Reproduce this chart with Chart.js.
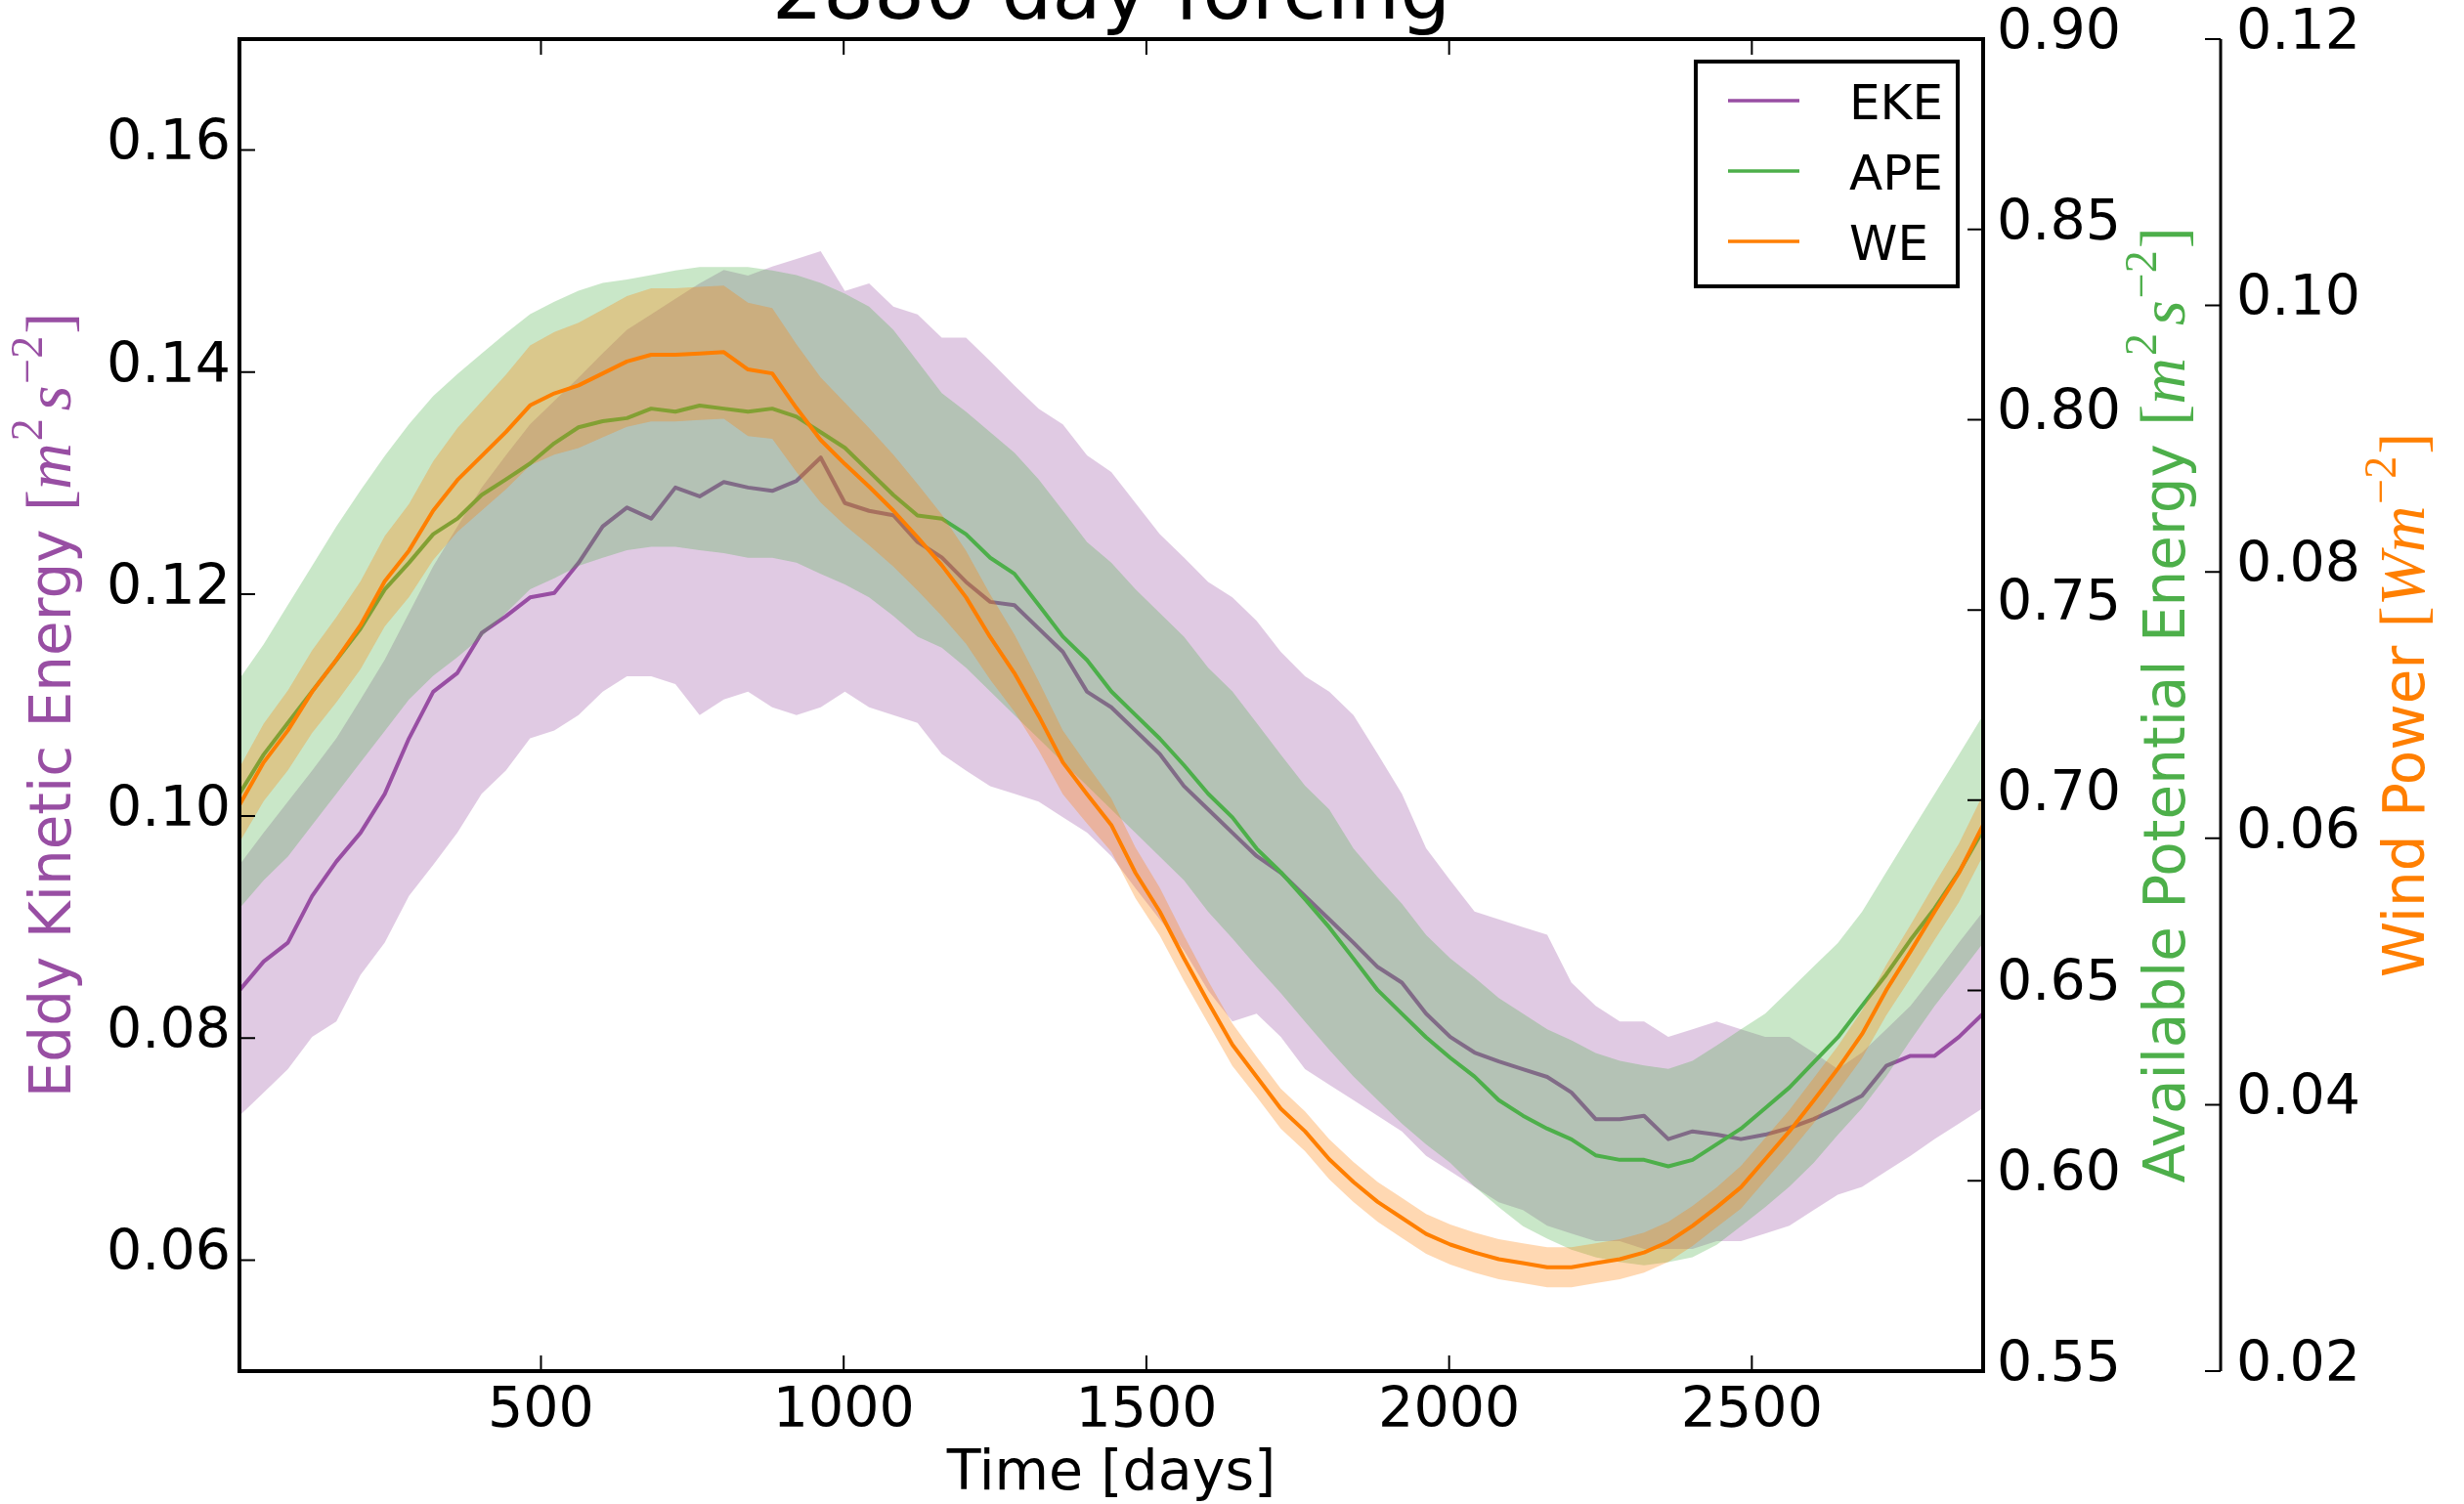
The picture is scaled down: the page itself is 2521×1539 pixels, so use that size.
<!DOCTYPE html>
<html><head><meta charset="utf-8">
<script src="https://cdn.jsdelivr.net/npm/chart.js@4/dist/chart.umd.min.js"></script>
<style>html,body{margin:0;padding:0;background:#fff;}canvas{display:block;}</style>
</head><body>
<canvas id="c" width="2521" height="1539" style="width:2521px;height:1539px"></canvas>
<script>
// ---------------- data ----------------
const days = [2,42,82,122,162,202,242,282,322,362,402,442,482,522,562,602,642,682,722,762,802,842,882,922,962,1002,1042,1082,1122,1162,1202,1242,1282,1322,1362,1402,1442,1482,1522,1562,1602,1642,1682,1722,1762,1802,1842,1882,1922,1962,2002,2042,2082,2122,2162,2202,2242,2282,2322,2362,2402,2442,2482,2522,2562,2602,2642,2682,2722,2762,2802,2842,2882];

const ekeMean = [0.0843,0.0869,0.0886,0.0928,0.0959,0.0985,0.1020,0.1070,0.1112,0.1129,
0.1165,0.1180,0.1197,0.1201,0.1228,0.1261,0.1278,0.1268,0.1296,0.1288,
0.1301,0.1296,0.1293,0.1302,0.1323,0.1282,0.1275,0.1271,0.1247,0.1233,
0.1211,0.1193,0.1190,0.1169,0.1148,0.1112,0.1098,0.1077,0.1056,0.1027,
0.1006,0.0985,0.0964,0.0949,0.0928,0.0907,0.0886,0.0864,0.0850,0.0822,
0.0801,0.0787,0.0779,0.0772,0.0765,0.0751,0.0727,0.0727,0.0730,0.0709,
0.0716,0.0713,0.0709,0.0713,0.0719,0.0727,0.0737,0.0748,0.0775,0.0784,
0.0784,0.0801,0.0822];
const ekeUpper = [0.0956,0.0985,0.1013,0.1041,0.1070,0.1105,0.1141,0.1183,0.1225,0.1261,
0.1296,0.1325,0.1353,0.1374,0.1395,0.1417,0.1438,0.1452,0.1466,0.1480,
0.1492,0.1487,0.1495,0.1502,0.1509,0.1473,0.1480,0.1459,0.1452,0.1431,
0.1431,0.1410,0.1388,0.1367,0.1353,0.1325,0.1310,0.1282,0.1254,0.1233,
0.1211,0.1197,0.1176,0.1148,0.1126,0.1112,0.1091,0.1056,0.1020,0.0971,
0.0942,0.0914,0.0907,0.0900,0.0893,0.0850,0.0829,0.0815,0.0815,0.0801,
0.0808,0.0815,0.0808,0.0801,0.0801,0.0787,0.0772,0.0787,0.0808,0.0829,
0.0857,0.0886,0.0914];
const ekeLower = [0.0730,0.0751,0.0772,0.0801,0.0815,0.0857,0.0886,0.0928,0.0956,0.0985,
0.1020,0.1041,0.1070,0.1077,0.1091,0.1112,0.1126,0.1126,0.1119,0.1091,
0.1105,0.1112,0.1098,0.1091,0.1098,0.1112,0.1098,0.1091,0.1084,0.1056,
0.1041,0.1027,0.1020,0.1013,0.0999,0.0985,0.0964,0.0935,0.0907,0.0879,
0.0843,0.0815,0.0822,0.0801,0.0772,0.0758,0.0744,0.0730,0.0716,0.0694,
0.0680,0.0666,0.0652,0.0645,0.0631,0.0624,0.0617,0.0617,0.0610,0.0610,
0.0610,0.0617,0.0617,0.0624,0.0631,0.0645,0.0659,0.0666,0.0680,0.0694,
0.0709,0.0723,0.0737];

const apeMean = [0.7017,0.7120,0.7203,0.7286,0.7368,0.7451,0.7554,0.7624,0.7699,0.7740,
0.7802,0.7843,0.7885,0.7938,0.7980,0.7996,0.8004,0.8029,0.8021,0.8037,
0.8029,0.8021,0.8029,0.8008,0.7967,0.7926,0.7864,0.7802,0.7748,0.7740,
0.7699,0.7637,0.7595,0.7513,0.7430,0.7368,0.7286,0.7224,0.7162,0.7092,
0.7017,0.6955,0.6873,0.6811,0.6740,0.6666,0.6584,0.6501,0.6439,0.6377,
0.6323,0.6274,0.6212,0.6171,0.6137,0.6109,0.6067,0.6055,0.6055,0.6038,
0.6055,0.6096,0.6137,0.6191,0.6245,0.6311,0.6377,0.6460,0.6542,0.6633,
0.6716,0.6811,0.6922];
const apeUpper = [0.7319,0.7410,0.7513,0.7616,0.7719,0.7814,0.7905,0.7988,0.8062,0.8120,
0.8174,0.8227,0.8277,0.8310,0.8339,0.8359,0.8368,0.8380,0.8392,0.8401,
0.8401,0.8401,0.8392,0.8380,0.8359,0.8331,0.8297,0.8236,0.8153,0.8070,
0.8021,0.7967,0.7913,0.7843,0.7761,0.7678,0.7624,0.7554,0.7492,0.7430,
0.7348,0.7286,0.7203,0.7120,0.7038,0.6976,0.6873,0.6798,0.6728,0.6646,
0.6584,0.6534,0.6480,0.6439,0.6398,0.6369,0.6336,0.6315,0.6303,0.6294,
0.6315,0.6356,0.6398,0.6439,0.6501,0.6563,0.6625,0.6707,0.6811,0.6914,
0.7017,0.7120,0.7224];
const apeLower = [0.6716,0.6790,0.6852,0.6935,0.7017,0.7100,0.7182,0.7265,0.7327,0.7376,
0.7430,0.7492,0.7554,0.7583,0.7616,0.7637,0.7657,0.7666,0.7666,0.7657,
0.7649,0.7637,0.7637,0.7624,0.7595,0.7567,0.7533,0.7484,0.7430,0.7401,
0.7348,0.7286,0.7224,0.7162,0.7100,0.7038,0.6976,0.6914,0.6852,0.6790,
0.6707,0.6637,0.6563,0.6493,0.6418,0.6344,0.6274,0.6212,0.6150,0.6096,
0.6047,0.5985,0.5931,0.5881,0.5848,0.5819,0.5799,0.5786,0.5778,0.5786,
0.5799,0.5832,0.5881,0.5931,0.5985,0.6047,0.6121,0.6191,0.6274,0.6369,
0.6460,0.6542,0.6625];

const weMean = [0.0625,0.0657,0.0681,0.0710,0.0734,0.0760,0.0793,0.0816,0.0846,0.0869,
0.0887,0.0905,0.0925,0.0934,0.0940,0.0949,0.0958,0.0963,0.0963,0.0964,
0.0965,0.0952,0.0949,0.0923,0.0899,0.0881,0.0864,0.0846,0.0826,0.0805,
0.0781,0.0751,0.0724,0.0692,0.0657,0.0633,0.0610,0.0574,0.0545,0.0510,
0.0477,0.0445,0.0421,0.0397,0.0380,0.0359,0.0342,0.0327,0.0315,0.0303,
0.0295,0.0289,0.0284,0.0281,0.0278,0.0278,0.0281,0.0284,0.0289,0.0297,
0.0309,0.0323,0.0338,0.0359,0.0380,0.0403,0.0427,0.0453,0.0486,0.0515,
0.0545,0.0574,0.0610];
const weSpread = [0.0028,0.0029,0.0030,0.0031,0.0032,0.0033,0.0034,0.0035,0.0037,0.0039,
0.0041,0.0043,0.0045,0.0046,0.0047,0.0048,0.0049,0.0050,0.0050,0.0050,
0.0050,0.0050,0.0049,0.0048,0.0047,0.0046,0.0044,0.0042,0.0040,0.0038,
0.0035,0.0032,0.0029,0.0026,0.0024,0.0022,0.0020,0.0019,0.0018,0.0017,
0.0016,0.0016,0.0015,0.0015,0.0015,0.0015,0.0015,0.0015,0.0015,0.0015,
0.0015,0.0015,0.0015,0.0015,0.0015,0.0015,0.0015,0.0015,0.0015,0.0015,
0.0015,0.0015,0.0016,0.0016,0.0016,0.0017,0.0017,0.0018,0.0019,0.0020,
0.0021,0.0022,0.0023];

const xTicks = [500,1000,1500,2000,2500];
const ekeTicks = [0.06,0.08,0.10,0.12,0.14,0.16];
const apeTicks = [0.55,0.60,0.65,0.70,0.75,0.80,0.85,0.90];
const weTicks = [0.02,0.04,0.06,0.08,0.10,0.12];

const seriesNames = ['EKE','APE','WE'];
const seriesColors = ['#984ea3','#4daf4a','#ff7f00'];
const bandColors = ['rgba(152,78,163,0.3)','rgba(77,175,74,0.3)','rgba(255,127,0,0.3)'];
const titleText = '2880 day forcing';
const xTitle = 'Time [days]';
const yTitleText = ['Eddy Kinetic Energy ','Available Potential Energy ','Wind Power '];

// ---------------- chart ----------------
const FONT = "'DejaVu Sans'";
Chart.defaults.font.family = FONT;
Chart.defaults.color = '#000';

const pts = arr => arr.map((v, i) => ({x: days[i], y: v}));
const weUpper = weMean.map((v, i) => v + weSpread[i]);
const weLower = weMean.map((v, i) => v - weSpread[i]);
const clear = 'rgba(0,0,0,0)';

function band(up, lo, axis, color, order) {
  return [
    {label: 'band', data: pts(up), yAxisID: axis, fill: '+1', backgroundColor: color, borderColor: clear, borderWidth: 0, pointRadius: 0, order: order},
    {label: 'band', data: pts(lo), yAxisID: axis, fill: false, backgroundColor: clear, borderColor: clear, borderWidth: 0, pointRadius: 0, order: order}
  ];
}
function line(vals, axis, i, order) {
  return {label: seriesNames[i], data: pts(vals), yAxisID: axis, fill: false, borderColor: seriesColors[i], borderWidth: 4, pointRadius: 0, order: order};
}

const datasets = [
  ...band(ekeUpper, ekeLower, 'y', bandColors[0], 9),
  line(ekeMean, 'y', 0, 8),
  ...band(apeUpper, apeLower, 'ape', bandColors[1], 7),
  line(apeMean, 'ape', 1, 6),
  ...band(weUpper, weLower, 'we', bandColors[2], 5),
  line(weMean, 'we', 2, 4)
];

function setTicks(list) { return s => { s.ticks = list.map(v => ({value: v})); }; }
function fixSize(prop, size) {
  return s => { s[prop] = size; s.paddingTop = 0; s.paddingBottom = 0; s.paddingLeft = 0; s.paddingRight = 0; };
}
const tickFont = {size: 57, family: FONT};
const noGrid = {display: false, drawTicks: false};

function drawVLabel(ctx, bx, cy, segs, color) {
  ctx.save();
  ctx.translate(bx, cy);
  ctx.rotate(-Math.PI / 2);
  ctx.fillStyle = color;
  ctx.textBaseline = 'alphabetic';
  ctx.textAlign = 'left';
  let total = 0;
  const w = segs.map(s => { ctx.font = s.f; const m = ctx.measureText(s.t).width + (s.g || 0); total += m; return m; });
  let x = -total / 2;
  segs.forEach((s, i) => { ctx.font = s.f; ctx.fillText(s.t, x, -(s.r || 0)); x += w[i]; });
  ctx.restore();
}
const TXT = "58px " + FONT;
const MUP = "66px 'Liberation Serif'";
const MIT = "italic 66px 'Liberation Serif'";
const MSUP = "46px 'Liberation Serif'";
function unitsMS(label) {
  return [
    {t: label, f: TXT}, {t: '[', f: MUP}, {t: 'm', f: MIT, g: 2}, {t: '2', f: MSUP, r: 29, g: 8},
    {t: 's', f: MIT, g: 2}, {t: '\u22122', f: MSUP, r: 29, g: 2}, {t: ']', f: MUP}
  ];
}
function unitsW(label) {
  return [
    {t: label, f: TXT}, {t: '[', f: MUP}, {t: 'Wm', f: MIT, g: 2}, {t: '\u22122', f: MSUP, r: 29, g: 2}, {t: ']', f: MUP}
  ];
}

const decor = {
  id: 'decor',
  afterDatasetsDraw(chart) {
    const {ctx, chartArea: a, scales} = chart;
    ctx.save();
    // ticks (inward)
    ctx.strokeStyle = '#000';
    ctx.lineWidth = 2;
    const T = 16;
    ctx.beginPath();
    xTicks.forEach(v => { const p = scales.x.getPixelForValue(v); ctx.moveTo(p, a.bottom); ctx.lineTo(p, a.bottom - T); ctx.moveTo(p, a.top); ctx.lineTo(p, a.top + T); });
    ekeTicks.forEach(v => { const p = scales.y.getPixelForValue(v); ctx.moveTo(a.left, p); ctx.lineTo(a.left + T, p); });
    apeTicks.forEach(v => { const p = scales.ape.getPixelForValue(v); ctx.moveTo(a.right, p); ctx.lineTo(a.right - T, p); });
    const wx = scales.we.left;
    weTicks.forEach(v => { const p = scales.we.getPixelForValue(v); ctx.moveTo(wx, p); ctx.lineTo(wx - T, p); });
    ctx.stroke();
    // spines
    ctx.lineWidth = 4;
    ctx.strokeRect(a.left, a.top, a.right - a.left, a.bottom - a.top);
    ctx.lineWidth = 3;
    ctx.beginPath(); ctx.moveTo(wx, a.top); ctx.lineTo(wx, a.bottom); ctx.stroke();

    // legend
    const lx = a.right - 294, ly = a.top + 23, lw = 268, lh = 230;
    ctx.fillStyle = '#fff';
    ctx.fillRect(lx, ly, lw, lh);
    ctx.lineWidth = 4;
    ctx.strokeStyle = '#000';
    ctx.strokeRect(lx, ly, lw, lh);
    ctx.font = "50px " + FONT;
    ctx.textAlign = 'left';
    ctx.textBaseline = 'alphabetic';
    seriesNames.forEach((n, i) => {
      const ry = a.top + 63 + i * 72;
      ctx.strokeStyle = seriesColors[i];
      ctx.lineWidth = 3.5;
      ctx.beginPath(); ctx.moveTo(a.right - 261, ry); ctx.lineTo(a.right - 188, ry); ctx.stroke();
      ctx.fillStyle = '#000';
      ctx.fillText(n, a.right - 137, ry + 18.5);
    });

    // title (partly cut by the top edge, as in the reference)
    ctx.fillStyle = '#000';
    ctx.font = "82px " + FONT;
    ctx.textAlign = 'center';
    ctx.fillText(titleText, (a.left + a.right) / 2, 19);

    // y axis titles
    const cy = (a.top + a.bottom) / 2;
    drawVLabel(ctx, scales.y.left + 72, cy, unitsMS(yTitleText[0]), seriesColors[0]);
    drawVLabel(ctx, scales.ape.left + 206, cy, unitsMS(yTitleText[1]), seriesColors[1]);
    drawVLabel(ctx, scales.we.left + 208, cy, unitsW(yTitleText[2]), seriesColors[2]);
    ctx.restore();
  }
};

new Chart(document.getElementById('c'), {
  type: 'line',
  data: {datasets},
  plugins: [decor],
  options: {
    responsive: false,
    animation: false,
    devicePixelRatio: 1,
    layout: {autoPadding: false, padding: {top: 40, left: 0, right: 0, bottom: 0}},
    plugins: {legend: {display: false}, tooltip: {enabled: false}, title: {display: false}},
    elements: {line: {tension: 0, borderJoinStyle: 'round'}},
    scales: {
      x: {
        type: 'linear', position: 'bottom', min: 2, max: 2882,
        afterBuildTicks: setTicks(xTicks), afterFit: fixSize('height', 136),
        grid: noGrid, border: {display: false},
        ticks: {font: tickFont, color: '#000', padding: 8, maxRotation: 0, autoSkip: false, callback: v => String(v)},
        title: {display: true, text: xTitle, font: {size: 57, family: FONT, lineHeight: 1.05}, color: '#000', padding: {top: 0, bottom: 0}}
      },
      y: {
        type: 'linear', position: 'left', min: 0.05, max: 0.17,
        afterBuildTicks: setTicks(ekeTicks), afterFit: fixSize('width', 245),
        grid: noGrid, border: {display: false},
        ticks: {font: tickFont, color: '#000', padding: 9, labelOffset: -5, autoSkip: false, callback: v => v.toFixed(2)}
      },
      ape: {
        type: 'linear', position: 'right', min: 0.55, max: 0.90, weight: 1,
        afterBuildTicks: setTicks(apeTicks), afterFit: fixSize('width', 243),
        grid: noGrid, border: {display: false},
        ticks: {font: tickFont, color: '#000', padding: 14, labelOffset: -5, autoSkip: false, callback: v => v.toFixed(2)}
      },
      we: {
        type: 'linear', position: 'right', min: 0.02, max: 0.12, weight: 2,
        afterBuildTicks: setTicks(weTicks), afterFit: fixSize('width', 249),
        grid: noGrid, border: {display: false},
        ticks: {font: tickFont, color: '#000', padding: 16, labelOffset: -5, autoSkip: false, callback: v => v.toFixed(2)}
      }
    }
  }
});
</script>
</body></html>
